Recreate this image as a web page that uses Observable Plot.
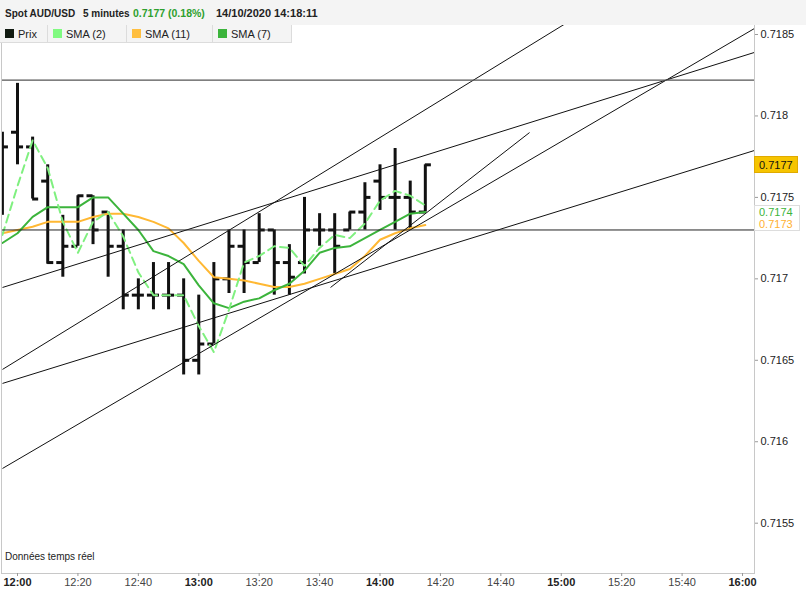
<!DOCTYPE html>
<html><head><meta charset="utf-8">
<script src="https://cdn.jsdelivr.net/npm/d3@7"></script>
<script src="https://cdn.jsdelivr.net/npm/@observablehq/plot@0.6"></script>
<style>
html,body{margin:0;padding:0;background:#fff;}
#wrap{position:relative;width:806px;height:592px;overflow:hidden;font-family:"Liberation Sans",Arial,sans-serif;color:#222;}
#chart{position:absolute;left:0;top:0;}
#head{position:absolute;left:0;top:0;width:806px;height:25px;background:#f4f4f4;font-weight:bold;font-size:10px;line-height:27px;white-space:nowrap;}
#head span{position:absolute;top:0;}
#legend{position:absolute;left:0;top:25px;height:18px;}
.lg{position:absolute;top:0;height:17px;background:#f4f4f4;border-right:1px solid #dcdcdc;border-bottom:1px solid #dcdcdc;font-size:11px;line-height:18px;white-space:nowrap;}
.lg i{position:absolute;top:4px;width:9px;height:9px;}
.lg b{position:absolute;top:0;font-weight:normal;}
.tag{position:absolute;left:754px;font-size:11px;white-space:nowrap;box-sizing:border-box;padding-left:4px;}
#note{position:absolute;left:5px;top:551px;font-family:"Liberation Sans Narrow","Liberation Sans",sans-serif;font-size:10px;color:#222;}
</style></head>
<body>
<div id="wrap">
  <div id="chart"></div>
  <div id="head">
    <span style="left:5px">Spot AUD/USD</span>
    <span style="left:83px">5 minutes</span>
    <span style="left:133px;color:#2ea02e;font-size:10.5px">0.7177 (0.18%)</span>
    <span style="left:216px;font-size:11px">14/10/2020 14:18:11</span>
  </div>
  <div id="legend"></div>
  <div id="note">Données temps réel</div>
</div>
<script>
// ---- data ----
const barTimes = ["11:55","12:00","12:05","12:10","12:15","12:20","12:25","12:30","12:35","12:40","12:45","12:50","12:55","13:00","13:05","13:10","13:15","13:20","13:25","13:30","13:35","13:40","13:45","13:50","13:55","14:00","14:05","14:10","14:15"];
const open  = [0.71739,0.71790,0.71781,0.71760,0.71710,0.71720,0.71751,0.71741,0.71720,0.71690,0.71690,0.71690,0.71690,0.71650,0.71660,0.71700,0.71720,0.71710,0.71730,0.71710,0.71710,0.71730,0.71730,0.71730,0.71741,0.71760,0.71750,0.71750,0.71741];
const high  = [0.71790,0.71820,0.71787,0.71770,0.71739,0.71751,0.71751,0.71741,0.71730,0.71700,0.71710,0.71710,0.71700,0.71690,0.71710,0.71730,0.71730,0.71740,0.71730,0.71721,0.71750,0.71740,0.71740,0.71741,0.71759,0.71770,0.71780,0.71760,0.71770];
const low   = [0.71739,0.71770,0.71749,0.71709,0.71701,0.71720,0.71721,0.71701,0.71681,0.71681,0.71681,0.71681,0.71641,0.71641,0.71660,0.71691,0.71691,0.71710,0.71690,0.71690,0.71703,0.71720,0.71703,0.71730,0.71730,0.71742,0.71730,0.71730,0.71741];
const close = [0.71781,0.71781,0.71749,0.71710,0.71720,0.71751,0.71730,0.71720,0.71690,0.71690,0.71690,0.71690,0.71650,0.71660,0.71700,0.71720,0.71710,0.71730,0.71710,0.71701,0.71730,0.71730,0.71720,0.71741,0.71750,0.71750,0.71750,0.71741,0.71770];
const sma2  = [0.71727,0.71757,0.71785,0.71768,0.71735,0.71716,0.71735,0.71741,0.71726,0.71704,0.71690,0.71690,0.71690,0.71671,0.71655,0.71681,0.71710,0.71714,0.71720,0.71719,0.71708,0.71719,0.71727,0.71725,0.71734,0.71748,0.71754,0.71751,0.71745];
const sma11 = [0.71728,0.71730,0.71732,0.71735,0.71735,0.71735,0.71738,0.71740,0.71740,0.71738,0.71735,0.71731,0.71722,0.71711,0.71701,0.71700,0.71699,0.71697,0.71695,0.71695,0.71697,0.71700,0.71703,0.71706,0.71714,0.71724,0.71728,0.71731,0.71733];
const sma7  = [0.71722,0.71728,0.71738,0.71744,0.71744,0.71744,0.71750,0.71750,0.71740,0.71730,0.71717,0.71714,0.71709,0.71696,0.71685,0.71682,0.71686,0.71688,0.71693,0.71697,0.71705,0.71716,0.71719,0.71720,0.71725,0.71730,0.71735,0.71740,0.71741];
const levels = [0.71822, 0.71730];
const trendStart      = ["11:55:02","11:55:02","11:55:02","11:55:02","13:43:37"];
const trendStartPrice = [0.716947, 0.716444, 0.716358, 0.715836, 0.716947];
const trendEnd        = ["16:03:58","15:03:04","16:03:58","16:03:58","14:49:30"];
const trendEndPrice   = [0.718390, 0.718586, 0.717788, 0.718537, 0.717898];
const xTickLabels = ["12:00","12:20","12:40","13:00","13:20","13:40","14:00","14:20","14:40","15:00","15:20","15:40","16:00"];
const yTickValues = [0.7155, 0.716, 0.7165, 0.717, 0.7175, 0.718, 0.7185];
const xDomainLabels = ["11:54:42", "16:03:58"];
const yDomain = [0.7151912, 0.7185675];
const legendItems = ["Prix", "SMA (2)", "SMA (11)", "SMA (7)"];
const legendColors = ["#111a11", "#80fa80", "#ffbf40", "#3cb43c"];
const lastPrice = 0.7177;

// ---- build ----
const T = s => new Date(`2020-10-14T${s.length === 5 ? s + ":00" : s}Z`);
const bars = barTimes.map((s, i) => ({t: T(s), open: open[i], high: high[i], low: low[i], close: close[i], sma2: sma2[i], sma11: sma11[i], sma7: sma7[i]}));
const trends = trendStart.map((s, i) => ({x1: T(s), y1: trendStartPrice[i], x2: T(trendEnd[i]), y2: trendEndPrice[i]}));
const half = 2 * 60000;
const fmt = d3.utcFormat("%H:%M");

const chart = Plot.plot({
  width: 806, height: 592,
  marginTop: 23, marginBottom: 19, marginLeft: 1, marginRight: 52,
  style: {fontFamily: "Liberation Sans, Arial, sans-serif", fontSize: "11px", color: "#222", background: "transparent", overflow: "visible"},
  x: {type: "utc", domain: xDomainLabels.map(T)},
  y: {domain: yDomain},
  marks: [
    Plot.ruleX(bars, {x: "t", y1: "low", y2: "high", stroke: "#111", strokeWidth: 3, clip: true}),
    Plot.ruleY(bars, {y: "open", x1: d => new Date(+d.t - half), x2: "t", stroke: "#111", strokeWidth: 3, clip: true}),
    Plot.ruleY(bars, {y: "close", x1: "t", x2: d => new Date(+d.t + half), stroke: "#111", strokeWidth: 3, clip: true}),
    Plot.line(bars, {x: "t", y: "sma11", stroke: "#ffb833", strokeWidth: 2, clip: true}),
    Plot.line(bars, {x: "t", y: "sma7", stroke: "#3cb43c", strokeWidth: 2, clip: true}),
    Plot.line(bars, {x: "t", y: "sma2", stroke: "#80f080", strokeWidth: 2, strokeDasharray: "8,5", clip: true}),
    Plot.link(trends, {x1: "x1", y1: "y1", x2: "x2", y2: "y2", stroke: "#111", strokeWidth: 1, clip: true}),
    Plot.ruleY(levels, {stroke: (d, i) => i === 0 ? "#555" : "#222", strokeWidth: (d, i) => i === 0 ? 1.3 : 1, clip: true}),
    Plot.frame({stroke: "#c8c8c8"}),
    Plot.axisX({ticks: xTickLabels.map(T), tickFormat: fmt, tickSize: 3, tickPadding: 2, stroke: "#999", fill: "#444", fontFamily: "Liberation Sans Narrow, Liberation Sans, sans-serif", fontSize: 11, label: null}),
    Plot.axisY({anchor: "right", ticks: yTickValues, tickFormat: d => String(d), tickSize: 3, tickPadding: 3, stroke: "#999", fill: "#222", fontSize: 11, label: null})
  ]
});
document.getElementById("chart").appendChild(chart);

// bold the full hours on the time axis
d3.select(chart).selectAll("g[aria-label='x-axis tick label'] text").each(function() {
  const s = this.textContent;
  if (s.endsWith(":00")) d3.select(this).attr("font-weight", "bold").attr("fill", "#222");
});

// legend
const lg = document.getElementById("legend");
const edges = [0, 48, 127, 213, 292];
legendItems.forEach((name, i) => {
  const d = document.createElement("div");
  d.className = "lg";
  d.style.left = edges[i] + "px";
  d.style.width = (edges[i + 1] - edges[i] - 1) + "px";
  d.innerHTML = `<i style="left:5px;background:${legendColors[i]}"></i><b style="left:18px">${name}</b>`;
  lg.appendChild(d);
});

// price tags on the right axis, placed with the y scale
const ys = chart.scale("y");
const wrap = document.getElementById("wrap");
function tag(text, value, h, css) {
  const d = document.createElement("div");
  d.className = "tag";
  d.textContent = text;
  d.style.top = (ys.apply(value) - h / 2) + "px";
  d.style.height = h + "px";
  d.style.lineHeight = (h - 1) + "px";
  d.style.cssText += css;
  wrap.appendChild(d);
}
tag(String(lastPrice), lastPrice, 17, "width:44px;background:#f6c400;border:1px solid #e0aa00;color:#111;");
tag("0.7174", sma7[sma7.length - 1], 13, "width:46px;background:#fff;border:1px solid #ddd;border-bottom:none;color:#3cb43c;");
tag("0.7173", sma11[sma11.length - 1], 13, "width:46px;background:#fff;border:1px solid #ddd;border-top:none;color:#ffb030;");
</script>
</body></html>
